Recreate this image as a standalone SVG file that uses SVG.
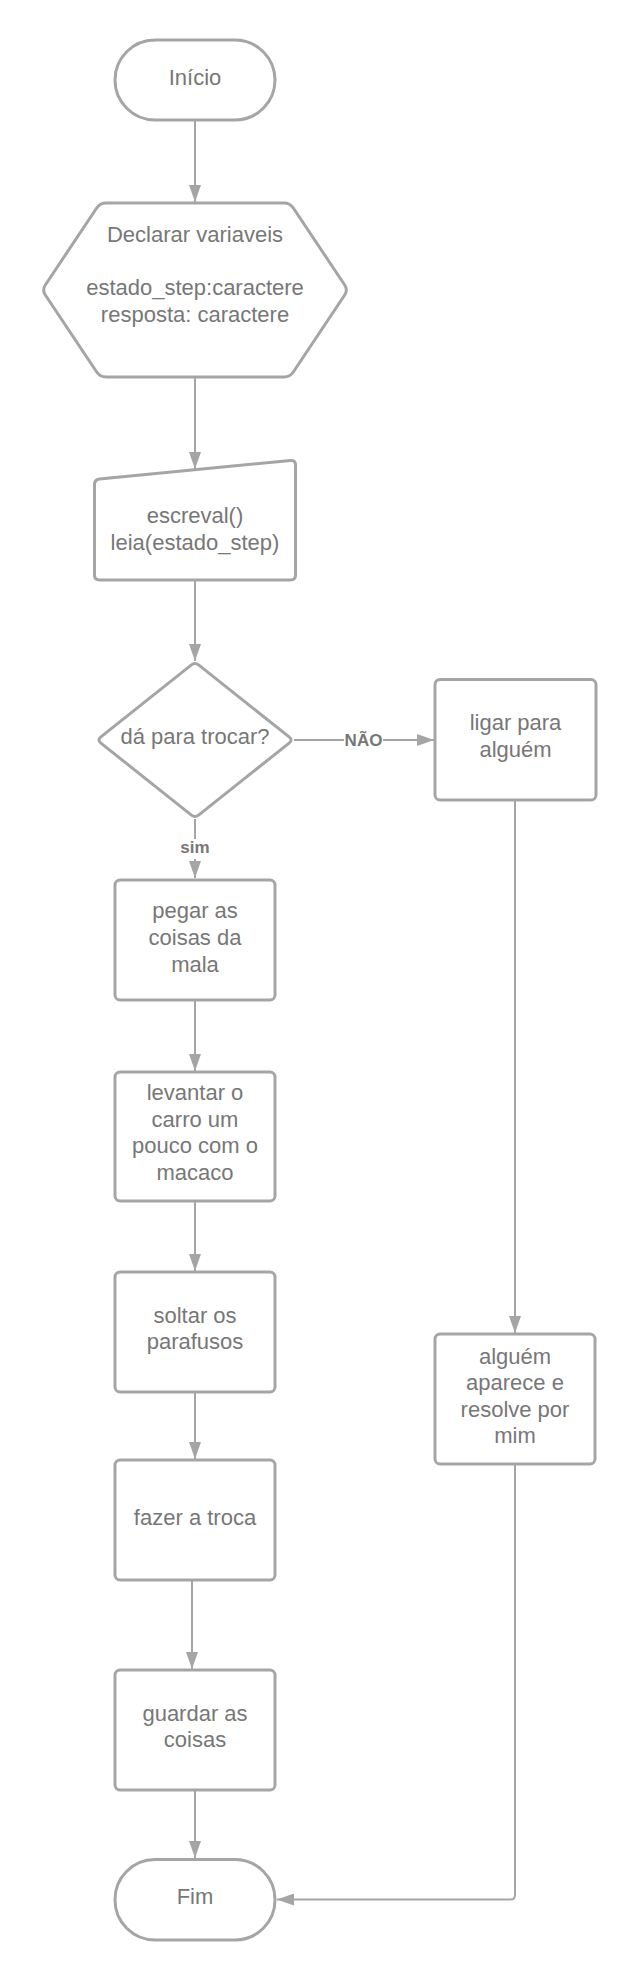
<svg xmlns="http://www.w3.org/2000/svg" width="635" height="1980" viewBox="0 0 635 1980">
<defs>
<style>
.shape{fill:#ffffff;stroke:#a5a5a5;stroke-width:3;stroke-linejoin:round}
.t{font-family:"Liberation Sans",Arial,Helvetica,sans-serif;font-size:22px;fill:#777777;text-anchor:middle}
.edge{fill:none;stroke:#a5a5a5;stroke-width:2;marker-end:url(#arrow)}
.el{font-family:"Liberation Sans",Arial,Helvetica,sans-serif;font-size:17px;font-weight:bold;fill:#777777;text-anchor:middle}
.bg{fill:#ffffff;stroke:none}
</style>
<marker id="arrow" markerUnits="userSpaceOnUse" markerWidth="17" markerHeight="12" refX="17" refY="6" orient="auto">
<path d="M0,0 L17,6 L0,12 Z" fill="#a5a5a5"/>
</marker>
</defs>
<rect width="635" height="1980" fill="#ffffff"/>

<g id="connectors">
<path class="edge" d="M195,121 L195,202"/>
<path class="edge" d="M195,378 L195,469"/>
<path class="edge" d="M195,581 L195,661"/>
<path class="edge" d="M294,740 L434,740"/>
<rect class="bg" x="344" y="730" width="39" height="20"/>
<text class="el" x="363.5" y="746">NÃO</text>
<path class="edge" d="M195,819 L195,878"/>
<rect class="bg" x="180" y="839" width="30" height="20"/>
<text class="el" x="195" y="853">sim</text>
<path class="edge" d="M195,1001 L195,1071"/>
<path class="edge" d="M195,1202 L195,1271"/>
<path class="edge" d="M195,1393 L195,1459"/>
<path class="edge" d="M192,1581 L192,1669"/>
<path class="edge" d="M195,1791 L195,1858"/>
<path class="edge" d="M515,801 L515,1333"/>
<path class="edge" d="M515,1465 L515,1895 Q515,1899.5 510.5,1899.5 L277,1899.5"/>
</g>

<g id="inicio">
<rect class="shape" x="115" y="40" width="160" height="80" rx="40" ry="40"/>
<text class="t" x="195" y="85">Início</text>
</g>

<g id="declarar">
<path class="shape" d="M45.3,285 L96.7,208 Q100,203 106,203 L284,203 Q290,203 293.3,208 L344.7,285 Q348,290 344.7,295 L293.3,372 Q290,377 284,377 L106,377 Q100,377 96.7,372 L45.3,295 Q42,290 45.3,285 Z"/>
<text class="t" x="195" y="241.5">Declarar variaveis</text>
<text class="t" x="195" y="295">estado_step:caractere</text>
<text class="t" x="195" y="321.5">resposta: caractere</text>
</g>

<g id="entrada">
<path class="shape" d="M94.5,484.5 Q94.5,479.5 99.5,479 L290.5,460.5 Q295.5,460 295.5,465 L295.5,575 Q295.5,580 290.5,580 L99.5,580 Q94.5,580 94.5,575 Z"/>
<text class="t" x="195" y="522.5">escreval()</text>
<text class="t" x="195" y="549.5">leia(estado_step)</text>
</g>

<g id="decisao">
<path class="shape" d="M198.9,665.1 L289.1,736.9 Q293,740 289.1,743.1 L198.9,814.9 Q195,818 191.1,814.9 L100.9,743.1 Q97,740 100.9,736.9 L191.1,665.1 Q195,662 198.9,665.1 Z"/>
<text class="t" x="195" y="743.5">dá para trocar?</text>
</g>

<g id="ligar">
<rect class="shape" x="435" y="679.5" width="161" height="120.5" rx="5" ry="5"/>
<text class="t" x="515.5" y="730">ligar para</text>
<text class="t" x="515.5" y="756.5">alguém</text>
</g>

<g id="pegar">
<rect class="shape" x="115" y="880" width="160" height="120" rx="5" ry="5"/>
<text class="t" x="195" y="918">pegar as</text>
<text class="t" x="195" y="945">coisas da</text>
<text class="t" x="195" y="971.5">mala</text>
</g>

<g id="levantar">
<rect class="shape" x="115" y="1072" width="160" height="129" rx="5" ry="5"/>
<text class="t" x="195" y="1100">levantar o</text>
<text class="t" x="195" y="1126.5">carro um</text>
<text class="t" x="195" y="1153">pouco com o</text>
<text class="t" x="195" y="1180">macaco</text>
</g>

<g id="soltar">
<rect class="shape" x="115" y="1272" width="160" height="120" rx="5" ry="5"/>
<text class="t" x="195" y="1322.5">soltar os</text>
<text class="t" x="195" y="1348.5">parafusos</text>
</g>

<g id="fazer">
<rect class="shape" x="115" y="1460" width="160" height="120" rx="5" ry="5"/>
<text class="t" x="195" y="1525">fazer a troca</text>
</g>

<g id="guardar">
<rect class="shape" x="115" y="1670" width="160" height="120" rx="5" ry="5"/>
<text class="t" x="195" y="1720.5">guardar as</text>
<text class="t" x="195" y="1746.5">coisas</text>
</g>

<g id="alguem">
<rect class="shape" x="435" y="1334" width="160" height="130" rx="5" ry="5"/>
<text class="t" x="515" y="1363.5">alguém</text>
<text class="t" x="515" y="1390">aparece e</text>
<text class="t" x="515" y="1416.5">resolve por</text>
<text class="t" x="515" y="1443">mim</text>
</g>

<g id="fim">
<rect class="shape" x="115" y="1859.5" width="160" height="80.5" rx="40" ry="40"/>
<text class="t" x="195" y="1904">Fim</text>
</g>
</svg>
